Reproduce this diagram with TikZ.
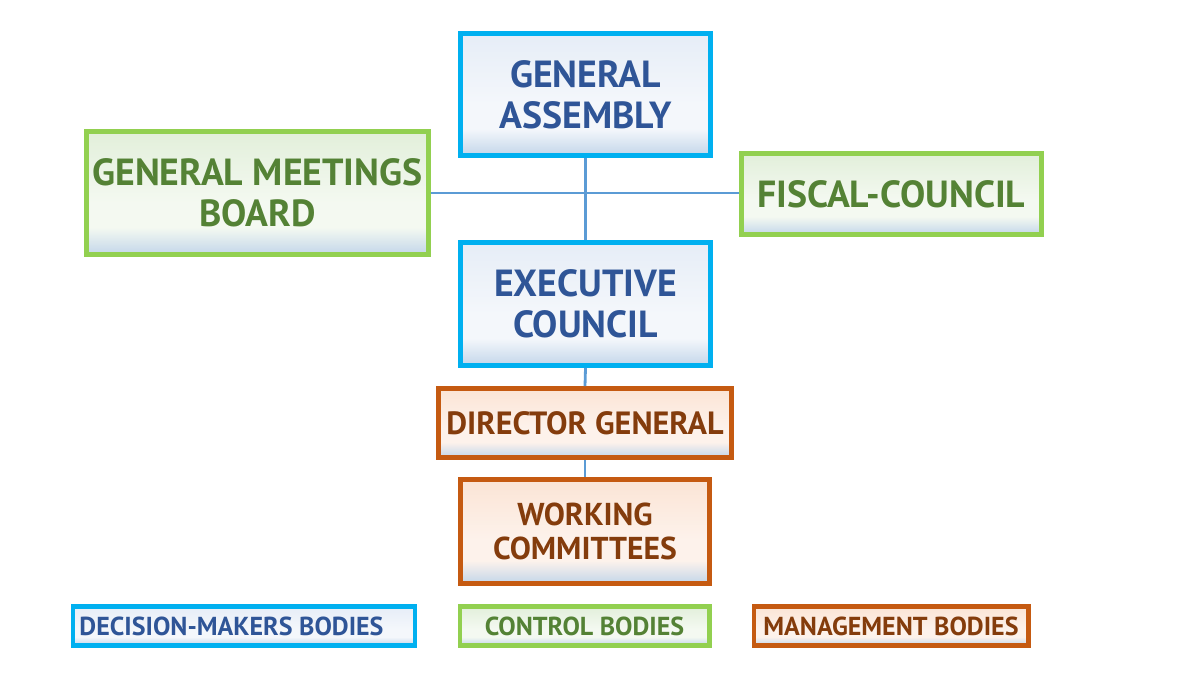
\documentclass[tikz,border=0pt]{standalone}
\usepackage{fontspec}
\setmainfont{PT Sans}
\definecolor{decline}{HTML}{00B0F0}
\definecolor{dectext}{HTML}{2F5597}
\definecolor{dectop}{HTML}{E6EDF7}
\definecolor{decmid}{HTML}{F4F7FB}
\definecolor{ctlline}{HTML}{92D050}
\definecolor{ctltext}{HTML}{548235}
\definecolor{ctltop}{HTML}{E2EFDA}
\definecolor{ctlmid}{HTML}{F4F9F1}
\definecolor{mgtline}{HTML}{C55A11}
\definecolor{mgttext}{HTML}{843C0C}
\definecolor{mgttop}{HTML}{FBE4D5}
\definecolor{mgtmid}{HTML}{FDF2EB}
\definecolor{linkline}{HTML}{5B9BD5}
\definecolor{shadebot}{HTML}{C3D6EA}
\pgfdeclareverticalshading{decshade}{100bp}{color(0bp)=(shadebot); color(25bp)=(shadebot);
  color(36bp)=(decmid); color(46bp)=(decmid); color(75bp)=(dectop); color(100bp)=(dectop)}
\pgfdeclareverticalshading{ctlshade}{100bp}{color(0bp)=(shadebot); color(25bp)=(shadebot);
  color(36bp)=(ctlmid); color(46bp)=(ctlmid); color(75bp)=(ctltop); color(100bp)=(ctltop)}
\pgfdeclareverticalshading{mgtshade}{100bp}{color(0bp)=(shadebot); color(25bp)=(shadebot);
  color(36bp)=(mgtmid); color(46bp)=(mgtmid); color(75bp)=(mgttop); color(100bp)=(mgttop)}
\begin{document}
\begin{tikzpicture}[x=0.02cm, y=-0.02cm,
  body/.style={draw, line width=2.8pt, align=center, inner sep=0pt,
    font=\bfseries\fontsize{21.5}{23.5}\selectfont},
  decision/.style={body, draw=decline, text=dectext, shading=decshade},
  control/.style={body, draw=ctlline, text=ctltext, shading=ctlshade},
  manage/.style={body, draw=mgtline, text=mgttext, shading=mgtshade},
  key/.style={line width=2.3pt, font=\bfseries\fontsize{14.8}{16}\selectfont},
  link/.style={draw=linkline, line width=1.6pt}]
  \useasboundingbox (0,0) rectangle (1200,675);
  % main bodies
  \node (GA) at (585.5, 94.5) [decision, minimum width=5cm, minimum height=2.44cm] {GENERAL\\ASSEMBLY};
  \node (GMB) at (257.5, 193) [control, minimum width=6.84cm, minimum height=2.46cm] {GENERAL MEETINGS\\BOARD};
  \node (FC) at (891.5, 194) [control, minimum width=6cm, minimum height=1.62cm] {FISCAL-COUNCIL};
  \node (EC) at (585.5, 304) [decision, minimum width=5cm, minimum height=2.46cm] {EXECUTIVE\\COUNCIL};
  \node (DG) at (585, 423) [manage, minimum width=5.86cm, minimum height=1.38cm,
    font=\bfseries\fontsize{18.3}{20}\selectfont] {DIRECTOR GENERAL};
  \node (WC) at (585, 531.5) [manage, minimum width=4.98cm, minimum height=2.08cm,
    font=\bfseries\fontsize{18}{19}\selectfont] {WORKING\\COMMITTEES};
  % links
  \draw[link] (GMB.east) -- (GMB.east -| FC.west);
  \draw[link] (GA.south) -- (EC.north);
  \draw[link] (EC.south) -- (DG.north);
  \draw[link] (DG.south) -- (WC.north);
  % key
  \node (DMB) at (244, 626) [decision, key, minimum width=6.86cm, minimum height=0.78cm] {DECISION-MAKERS BODIES\hspace*{0.5cm}};
  \node (CB) at (584.5, 626) [control, key, minimum width=5cm, minimum height=0.78cm] {CONTROL BODIES};
  \node (MB) at (891, 626) [manage, key, minimum width=5.5cm, minimum height=0.78cm] {MANAGEMENT BODIES};
\end{tikzpicture}
\end{document}
